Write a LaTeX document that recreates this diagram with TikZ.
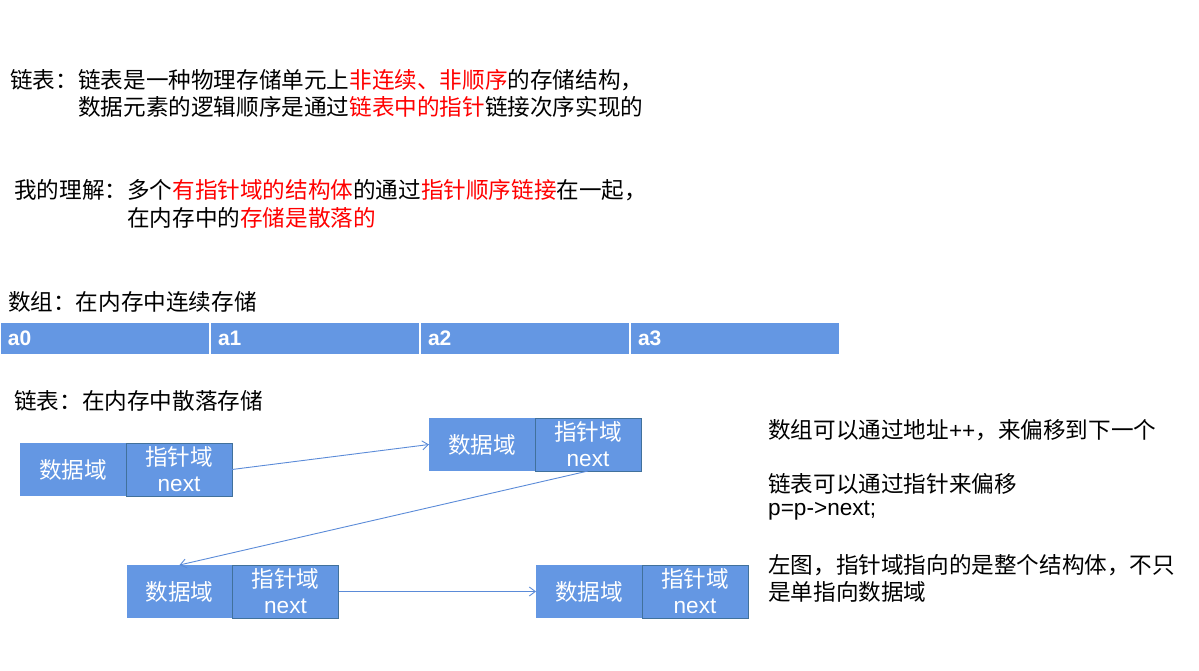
\documentclass[tikz,border=0pt]{standalone}
\usepackage{fontspec}
\setmainfont{Noto Sans CJK SC}
\newfontfamily\latfont{Liberation Sans}
\usetikzlibrary{arrows.meta,positioning}
\definecolor{cellblue}{HTML}{6497E3}
\definecolor{celledge}{HTML}{41719C}
\definecolor{linkblue}{HTML}{5B8BD8}
\definecolor{hl}{HTML}{FF0000}
\newcommand{\hot}[1]{\textcolor{hl}{#1}}
\newcommand{\cjksize}{\fontsize{22.6pt}{27pt}\selectfont}
\tikzset{
  txt/.style={anchor=base west, inner sep=0pt, font=\cjksize, text=black},
  datafld/.style={rectangle, fill=cellblue, minimum width=106pt, minimum height=53pt,
                  inner sep=0pt, outer sep=0pt, text=white, font=\cjksize},
  ptrfld/.style={datafld, draw=celledge, line width=1pt, align=center,
                 font=\fontsize{22.6pt}{26pt}\selectfont},
  arrcell/.style={rectangle, fill=cellblue, draw=white, line width=1.5pt, minimum height=33pt,
                  text width=194pt, inner xsep=8pt, inner ysep=0pt, align=left, text=white,
                  font=\latfont\bfseries\fontsize{21pt}{24pt}\selectfont},
  link/.style={-{Straight Barb[length=6pt,width=9pt]}, draw=linkblue, line width=0.9pt}
}

\begin{document}
\begin{tikzpicture}[x=1pt, y=-1pt]
  \useasboundingbox (0,0) rectangle (1199,671);
  % definition
  \node[txt] (deflbl) at (10,88.6) {链表：};
  \node[txt] (def1) at (78,88.6) {链表是一种物理存储单元上\hot{非连续、非顺序}的存储结构，};
  \node[txt] (def2) at (78,115.6) {数据元素的逻辑顺序是通过\hot{链表中的指针}链接次序实现的};
  \node[txt] (undlbl) at (14,198.6) {我的理解：};
  \node[txt] (und1) at (127,198.6) {多个\hot{有指针域的结构体}的通过\hot{指针顺序链接}在一起，};
  \node[txt] (und2) at (127,226.6) {在内存中的\hot{存储是散落的}};

  % array
  \node[txt] (arrtitle) at (8,310.6) {数组：在内存中连续存储};
  \node[arrcell] (a0) at (105,338.5) {a0};
  \node[arrcell] (a1) at (315,338.5) {a1};
  \node[arrcell] (a2) at (525,338.5) {a2};
  \node[arrcell] (a3) at (735,338.5) {a3};

  % linked list
  \node[txt] (listtitle) at (14,409.6) {链表：在内存中散落存储};
  \node[datafld] (d1) at (73,469.5) {数据域};
  \node[ptrfld, right=0pt of d1] (p1) {指针域\\{\latfont next}};
  \node[datafld] (d2) at (482,444.5) {数据域};
  \node[ptrfld, right=0pt of d2] (p2) {指针域\\{\latfont next}};
  \node[datafld] (d3) at (179.5,591.5) {数据域};
  \node[ptrfld, right=0pt of d3] (p3) {指针域\\{\latfont next}};
  \node[datafld] (d4) at (589,591.5) {数据域};
  \node[ptrfld, right=0pt of d4] (p4) {指针域\\{\latfont next}};
  \draw[link] (p1.east) -- (d2.west);
  \draw[link] (p2.south) -- (d3.north);
  \draw[link] (p3.east) -- (d4.west);

  % notes
  \node[txt] (note1) at (768,438.6) {数组可以通过地址{\latfont ++}，来偏移到下一个};
  \node[txt] (note2) at (768,492.6) {链表可以通过指针来偏移};
  \node[txt] (note3) at (768,515) {\latfont p=p->next;};
  \node[txt] (note4) at (768,573.6) {左图，指针域指向的是整个结构体，不只};
  \node[txt] (note5) at (768,600.6) {是单指向数据域};
\end{tikzpicture}
\end{document}
